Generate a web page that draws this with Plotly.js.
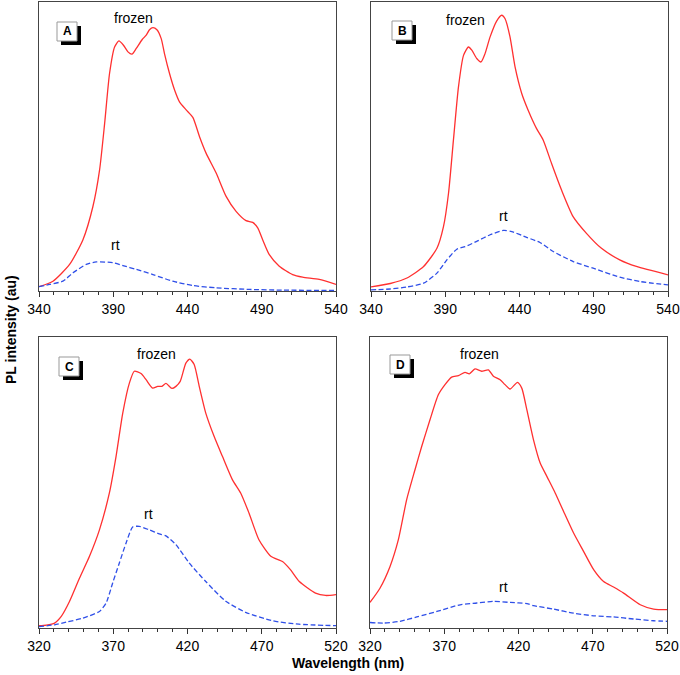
<!DOCTYPE html>
<html>
<head>
<meta charset="utf-8">
<script src="https://cdn.plot.ly/plotly-3.0.1.min.js"></script>
<style>html,body{margin:0;padding:0;background:#fff;}#chart{width:680px;height:675px;}</style>
</head>
<body>
<div id="chart"></div>
<script>
// ---- Panel A (340-540 nm) ----
const aFrozenX = [340,349.4,360.6,369.6,376.3,380.8,384.2,387.5,390.9,393.8,396.9,399.9,402.6,405.5,409.5,412.2,414.4,416.7,419.4,422.3,424.5,427.9,431.3,434.6,439.1,443.6,448.1,452.5,459.3,466.0,472.7,479.4,483.9,487.3,490.6,495.1,501.8,510.8,517.5,528.7,540];
const aFrozenY = [1.3,3.2,9.0,17.6,29.1,41.8,57.9,75.2,84.4,86.5,85.0,82.7,81.9,83.9,87.0,88.5,90.4,91.1,90.4,87.3,82.1,75.2,69.5,65.4,62.6,60.0,53.3,47.6,40.7,32.6,27.4,24.2,23.6,21.7,17.6,12.4,8.4,5.5,4.6,3.8,2.1];
const aRtX = [340,347.2,356.1,362.9,371.8,378.6,389.8,396.5,405.5,416.7,430.1,443.6,459.3,481.7,504.1,540];
const aRtY = [1.3,2.1,3.2,6.1,9.0,9.9,9.6,8.6,7.3,5.5,3.2,1.7,0.9,0.35,0.1,0];

// ---- Panel B (340-540 nm) ----
const bFrozenX = [340,353,364.2,375.4,384.4,388.8,392.2,395.5,398.9,402.3,405.6,407.9,411.2,414.1,416.8,420.2,424.6,428.0,430.3,433.6,437.0,441.5,445.9,451.5,456.0,461.6,468.3,476.1,485.1,495.2,507.5,518.7,540];
const bFrozenY = [1.2,2.4,4.3,8.3,14.6,22.1,33.7,52.1,70.6,81.5,84.4,83.3,80.4,79.2,82.1,87.9,93.4,95.4,94.2,87.9,77.5,68.3,62.4,56.1,52.1,44.0,34.8,25.6,19.8,14.6,10.6,8.3,5.4];
const bRtX = [340,353,364.2,375.4,384.4,391.1,397.8,403.4,411.2,420.2,429.2,434.8,444.8,453.8,462.7,476.2,489.6,507.5,520.9,540];
const bRtY = [0.2,0.5,1.2,2.5,6.0,10.6,14.3,15.2,17.0,19.3,20.8,20.4,18.4,16.6,13.5,10.0,7.7,4.6,3.1,1.9];

// ---- Panel C (320-520 nm) ----
const cFrozenX = [320,324.9,330.5,335,340.6,347.3,354,360.7,367.4,371.9,376.4,380.9,384.2,388.7,392.1,396.5,399.9,402.8,405.5,409.5,412.2,415.1,418.9,421.6,424.5,427.9,432.3,437.9,443.5,450.2,455.8,461.4,468.1,476.1,484.0,489.3,495.3,506.2,513,520];
const cFrozenY = [0.6,0.8,1.5,3.8,9.0,17.0,24.5,33.6,46.3,58.9,73.8,84.2,88.2,87.4,85.3,82.4,83.0,83.0,84.0,82.3,83.0,84.7,91.0,92.4,90.5,83.0,73.8,65.8,58.9,50.9,46.3,39.4,30.2,24.5,22.7,19.9,15.8,11.8,11.0,11.3];
const cRtX = [320,330.5,338.3,349.5,360.7,365.2,369.6,374.1,378.6,383.1,387.5,394.2,401.0,405.5,412.2,421.1,432.3,445.8,459.2,477.1,495.0,520];
const cRtY = [0.3,0.9,1.8,3.2,5.5,8.4,15.3,22.2,29.0,34.6,34.8,33.6,32.2,31.5,28.5,22.2,15.8,9.0,5.2,2.3,1.1,0.6];

// ---- Panel D (320-520 nm) ----
const dFrozenX = [320,326.7,333.5,339.1,344.7,350.3,354.8,360.4,366.0,370.5,375.0,379.5,384.0,386.9,390.7,395.2,399.7,403.1,407.6,410.9,414.3,419.3,422.2,425.6,430.1,434.6,439.1,444.7,450.3,457.1,463.8,470.6,477.3,484.0,490.8,502.0,511.0,520];
const dFrozenY = [8.6,13.5,21.0,30.2,44.0,54.3,62.3,71.5,80.1,83.6,86.2,86.7,87.8,87.3,89.0,88.2,88.7,86.5,85.3,83.6,82.1,84.4,82.4,75.0,64.6,56.6,52.0,46.3,40.0,32.5,26.2,19.9,15.8,13.9,11.8,7.8,6.3,6.1];
const dRtX = [320,329,340.2,351.5,365,380.7,392,403.2,414.4,425.7,430.1,443.6,457.1,470.6,484.0,497.5,511.0,520];
const dRtY = [1.7,1.5,2.1,3.6,5.5,7.8,8.4,9.0,8.6,8.2,7.5,6.3,4.9,4.0,3.6,2.9,2.3,2.1];

const panelLetters = ["A","B","C","D"];
const xRanges = [[340,540],[340,540],[320,520],[320,520]];
const xTickVals = [[340,390,440,490,540],[340,390,440,490,540],[320,370,420,470,520],[320,370,420,470,520]];
const seriesNames = ["frozen","rt"];
const xTitle = "Wavelength (nm)";
const yTitle = "PL intensity (au)";

const W = 680, H = 675;
const boxesPx = [[39,336,2,291],[371,668,2,291],[39,336,337,628],[370,667,337,628]];
const RED = "#ff3030", BLUE = "#2f4fe8";

const allData = [
  [aFrozenX,aFrozenY,aRtX,aRtY],
  [bFrozenX,bFrozenY,bRtX,bRtY],
  [cFrozenX,cFrozenY,cRtX,cRtY],
  [dFrozenX,dFrozenY,dRtX,dRtY]
];

const traces = [];
const layout = {
  width: W, height: H,
  margin: {l:0,r:0,t:0,b:0},
  paper_bgcolor: "#fff", plot_bgcolor: "#fff",
  showlegend: false,
  font: {family: "Liberation Sans, Arial, sans-serif", size: 14, color: "#000"},
  annotations: [], shapes: []
};

allData.forEach((d, i) => {
  const n = i === 0 ? "" : String(i + 1);
  const xa = "x" + n, ya = "y" + n;
  traces.push({x: d[0], y: d[1], xaxis: xa, yaxis: ya, type: "scatter", mode: "lines", name: seriesNames[0],
    line: {color: RED, width: 1.3, shape: "spline", smoothing: 0.6}});
  traces.push({x: d[2], y: d[3], xaxis: xa, yaxis: ya, type: "scatter", mode: "lines", name: seriesNames[1],
    line: {color: BLUE, width: 1.3, dash: "5px,2.5px", shape: "spline", smoothing: 0.6}});
  const b = boxesPx[i];
  layout["xaxis" + n] = {
    domain: [b[0]/W, b[1]/W], anchor: ya, range: xRanges[i],
    tickmode: "array", tickvals: xTickVals[i], ticks: "outside", ticklen: 5, tickwidth: 1, tickcolor: "#333",
    minor: {dtick: 10, tick0: xRanges[i][0], ticks: "outside", ticklen: 3, tickcolor: "#333", tickwidth: 1, showgrid: false},
    showline: true, linecolor: "#444", linewidth: 1, mirror: true, showgrid: false, zeroline: false,
    tickfont: {size: 14, color: "#000"}, fixedrange: true
  };
  layout["yaxis" + n] = {
    domain: [1 - b[3]/H, 1 - b[2]/H], anchor: xa, range: [-0.2, 100],
    showticklabels: false, ticks: "", showline: true, linecolor: "#444", linewidth: 1, mirror: true,
    showgrid: false, zeroline: true, zerolinecolor: "#6a7cff", zerolinewidth: 1, fixedrange: true
  };
});

// text labels (paper coordinates)
const frozenPos = [[133,18],[465,20],[156,354],[479,354]];
const rtPos = [[115,245],[503,216],[148,514],[503,587]];
frozenPos.forEach(p => layout.annotations.push({xref:"paper",yref:"paper",x:p[0]/W,y:1-p[1]/H,text:seriesNames[0],showarrow:false,font:{size:14,color:"#000"},xanchor:"center",yanchor:"middle"}));
rtPos.forEach(p => layout.annotations.push({xref:"paper",yref:"paper",x:p[0]/W,y:1-p[1]/H,text:seriesNames[1],showarrow:false,font:{size:14,color:"#000"},xanchor:"center",yanchor:"middle"}));

// letter boxes
const letterBoxes = [[57,22],[392,21],[59,357],[390,355]];
letterBoxes.forEach((p, i) => {
  const x0 = p[0], y0 = p[1], w = 20, h = 19, s = 4;
  layout.shapes.push({type:"rect",xref:"paper",yref:"paper",x0:(x0+s)/W,x1:(x0+w+s)/W,y0:1-(y0+h+s)/H,y1:1-(y0+s)/H,fillcolor:"#000",line:{width:0}});
  layout.shapes.push({type:"rect",xref:"paper",yref:"paper",x0:x0/W,x1:(x0+w)/W,y0:1-(y0+h)/H,y1:1-y0/H,fillcolor:"#fff",line:{color:"#999",width:1}});
  layout.annotations.push({xref:"paper",yref:"paper",x:(x0+w/2)/W,y:1-(y0+h/2)/H,text:"<b>"+panelLetters[i]+"</b>",showarrow:false,font:{size:12,color:"#000"},xanchor:"center",yanchor:"middle"});
});

// axis titles
layout.annotations.push({xref:"paper",yref:"paper",x:348/W,y:1-663/H,text:"<b>"+xTitle+"</b>",showarrow:false,font:{size:14,color:"#000"},xanchor:"center",yanchor:"middle"});
layout.annotations.push({xref:"paper",yref:"paper",x:11/W,y:1-330/H,text:"<b>"+yTitle+"</b>",showarrow:false,textangle:-90,font:{size:14,color:"#000"},xanchor:"center",yanchor:"middle"});

Plotly.newPlot("chart", traces, layout, {staticPlot: true, displayModeBar: false});
</script>
</body>
</html>
